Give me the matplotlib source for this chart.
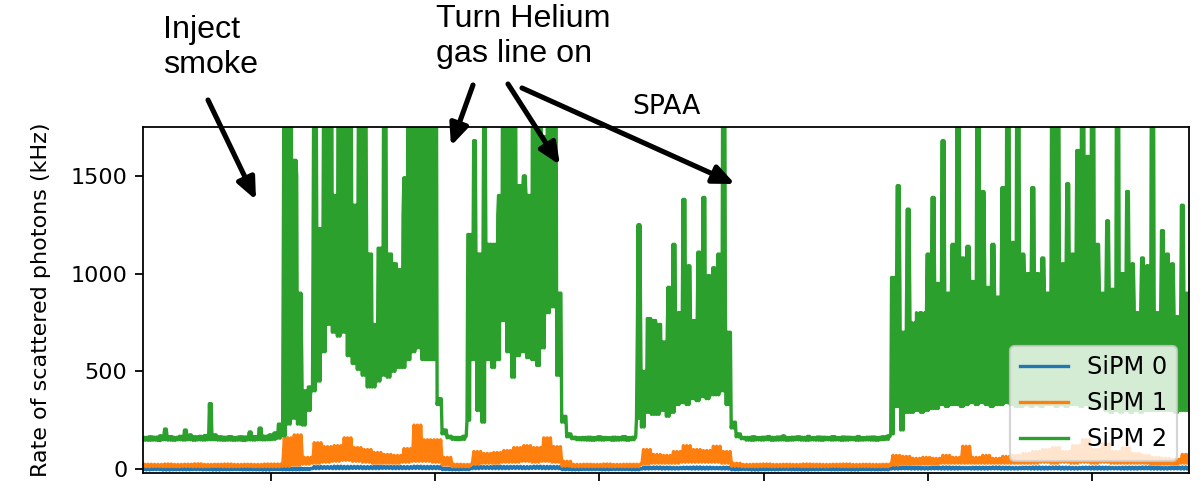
import numpy as np
import matplotlib.pyplot as plt

# time axis (tick labels are cut off in the original figure)
t_start, t_end = 223, 6588
x_ticks = [1000, 2000, 3000, 4000, 5000, 6000]
y_ticks = [0, 500, 1000, 1500]

# SiPM 2 (kHz), per time bin: bottom of the trace, top of the dense band, highest spike
sipm2_low = [148, 147, 148, 146, 150, 148, 147, 150, 148, 150,
             147, 149, 148, 150, 150, 148, 147, 148, 147, 148,
             146, 149, 148, 150, 149, 150, 152, 158, 170, 230,
             260, 230, 225, 300, 400, 450, 600, 740, 700, 680,
             700, 580, 540, 510, 480, 420, 420, 450, 480, 470,
             500, 520, 520, 560, 600, 620, 560, 560, 560, 330,
             180, 160, 152, 150, 152, 250, 560, 300, 240, 560,
             520, 560, 760, 600, 470, 580, 600, 570, 560, 530,
             620, 800, 830, 480, 240, 165, 155, 150, 149, 148,
             147, 149, 148, 150, 147, 148, 149, 147, 150,
             260, 215, 290, 280, 280, 300, 270, 290, 330, 340, 330,
             360, 350, 370, 360, 380, 380, 400, 330, 210, 165, 155,
             148, 147, 149, 148, 150, 147, 148, 149, 147, 148,
             150, 148, 147, 149, 148, 147, 150, 148, 149, 147,
             148, 150, 147, 148, 149, 148, 147, 150, 152,
             180, 320, 200, 290, 290, 300, 290, 300, 310, 310,
             330, 320, 330, 330, 320, 330, 340, 330, 340, 330,
             320, 330, 330, 340, 330, 320, 320, 330, 320, 330,
             320, 330, 330, 320, 330, 320, 330, 330, 320, 330,
             320, 320, 320, 300, 290, 300, 290, 300, 290, 300,
             290, 300, 300, 300, 300, 300, 300, 290, 300, 300]
sipm2_fill = [162, 165, 163, 164, 166, 166, 162, 165, 164, 165,
              165, 164, 166, 165, 165, 165, 163, 166, 162, 165,
              164, 166, 166, 168, 168, 170, 180, 230, 1250, 1250,
              1500, 600, 400, 420, 1400, 1230, 1600, 2500, 1400, 2500,
              2500, 1500, 1350, 1600, 1300, 1100, 740, 1130, 1100, 1100,
              1050, 1000, 1300, 2500, 2500, 2500, 2500, 1300, 2500, 360,
              200, 168, 162, 162, 168, 1200, 900, 1100, 900, 1150,
              1000, 1300, 2500, 2500, 1400, 1450, 1400, 1400, 2500, 2500,
              1500, 2500, 2500, 900, 270, 180, 163, 160, 162, 163,
              161, 165, 162, 160, 163, 162, 166, 161, 163,
              700, 500, 770, 760, 740, 650, 700, 700, 750, 720, 750,
              700, 750, 750, 760, 760, 780, 800, 700, 240, 180, 162,
              162, 165, 161, 163, 164, 162, 164, 165, 161, 163,
              165, 162, 164, 161, 164, 163, 162, 166, 161, 164,
              163, 162, 164, 161, 163, 164, 162, 165, 166,
              980, 950, 700, 850, 750, 800, 800, 800, 850, 850,
              900, 850, 900, 950, 900, 950, 900, 950, 1050, 900,
              900, 850, 950, 1050, 950, 1000, 950, 900, 950, 900,
              900, 850, 1050, 1050, 950, 1000, 950, 1050, 1050, 1050,
              1000, 950, 850, 900, 850, 900, 850, 900, 850, 750,
              850, 850, 900, 750, 850, 850, 800, 750, 850, 800]
sipm2_peak = [162, 165, 163, 170, 205, 166, 162, 168, 200, 175,
              165, 168, 172, 335, 175, 165, 163, 166, 162, 165,
              164, 190, 166, 210, 168, 175, 185, 230, 2500, 2500,
              1580, 900, 400, 420, 2500, 1230, 2500, 2500, 1400, 2500,
              2500, 2500, 1350, 2500, 1900, 1100, 740, 1130, 2500, 1100,
              1050, 1020, 1490, 2500, 2500, 2500, 2500, 2500, 2500, 360,
              200, 168, 162, 162, 168, 1200, 1680, 1100, 1750, 1150,
              1150, 1400, 2500, 2500, 2500, 1450, 1500, 1400, 2500, 2500,
              1700, 2500, 2500, 900, 270, 180, 163, 160, 162, 163,
              161, 165, 162, 160, 163, 162, 166, 161, 163,
              1250, 500, 770, 760, 740, 650, 930, 1150, 800, 1380, 1040,
              760, 1110, 1390, 990, 1030, 1100, 2500, 700, 240, 180, 162,
              162, 165, 161, 163, 167, 162, 164, 170, 161, 163,
              165, 162, 168, 161, 164, 163, 162, 166, 161, 164,
              163, 162, 167, 161, 163, 164, 162, 165, 170,
              980, 1450, 700, 1330, 700, 780, 760, 1100, 1390, 950,
              1680, 900, 1150, 2500, 1080, 1140, 960, 2500, 1420, 930,
              1150, 880, 1440, 2500, 1160, 2500, 1100, 1000, 1440, 1000,
              1080, 900, 2500, 2500, 1050, 1460, 1100, 1630, 2500, 1600,
              2500, 1150, 900, 1270, 920, 2500, 1000, 1420, 1050, 800,
              1080, 1040, 2500, 800, 1220, 1100, 1050, 780, 1350, 900]

# SiPM 1
sipm1_low = [12, 13, 12, 12, 13, 12, 12, 13, 12, 12, 13, 12, 12, 12,
             14, 20, 25, 30, 35, 40, 45, 40, 35, 30, 30, 30, 35, 40, 40, 35,
             20, 12, 12, 25, 30, 30, 35, 35, 40, 35, 40, 35, 15, 12,
             12, 12, 12, 12, 12, 12,
             25, 30, 30, 30, 35, 35, 35, 35, 30, 15,
             12, 12, 13, 12, 12, 13, 12, 12, 12, 13, 12, 12, 13, 12, 12,
             20, 25, 25, 25, 25, 30, 30, 30, 30, 30, 30, 30, 30, 30, 30,
             35, 30, 35, 30, 35, 30, 35, 30, 30, 30, 30, 25, 25, 25, 30]
sipm1_high = [25, 24, 26, 24, 25, 27, 24, 25, 26, 24, 25, 24, 26, 26,
              160, 175, 60, 135, 115, 120, 160, 110, 100, 85, 75, 70, 105, 225, 150, 150,
              60, 25, 24, 90, 80, 85, 95, 110, 120, 110, 160, 115, 40, 24,
              25, 24, 26, 24, 25, 25,
              100, 75, 70, 90, 120, 100, 95, 117, 90, 30,
              24, 25, 26, 24, 25, 24, 26, 25, 24, 25, 26, 24, 25, 24, 25,
              70, 65, 55, 60, 55, 70, 60, 117, 60, 70, 55, 65, 70, 80, 90,
              100, 110, 90, 120, 150, 100, 130, 90, 110, 80, 70, 60, 55, 50, 75]

# SiPM 0
sipm0_low = [-4, -3, -5, -4, -4, -3, -4, -5, -4, -3, -4, -4, -5, -3, -4, -4, -3,
             2, 3, 2, 2, 3, 2, 2, 3, 2, 2, 3, 2, 2,
             -3, -4, -3,
             2, 3, 2, 2, 3, 2, 3, 2, 2,
             -3, -4, -3, -3, -4, -3, -3, -4,
             0, 1, 0, 0, 1, 0, 0, 1, 0,
             -4, -3, -5, -4, -4, -3, -4, -5, -4, -3, -4, -4, -5, -3, -4, -4,
             0, 1, 0, 0, 1, 0, 0, 1, 0, 0, 1, 0, 0, 1, 0,
             0, 1, 0, 0, 1, 0, 0, 1, 0, 0, 1, 0, 0, 1, 0]
sipm0_high = [4, 5, 4, 3, 4, 5, 4, 4, 3, 4, 5, 4, 4, 3, 4, 5, 4,
              14, 13, 15, 14, 14, 13, 15, 14, 14, 13, 15, 14, 14,
              5, 4, 5,
              14, 13, 15, 14, 14, 13, 15, 14, 14,
              5, 4, 5, 5, 4, 5, 5, 4,
              10, 11, 10, 9, 10, 11, 10, 9, 10,
              4, 5, 4, 3, 4, 5, 4, 4, 3, 4, 5, 4, 4, 3, 4, 5,
              10, 11, 10, 9, 10, 11, 10, 9, 10, 10, 11, 10, 9, 10, 11,
              10, 11, 10, 9, 10, 11, 10, 9, 10, 10, 11, 10, 9, 10, 11]


def trace(*bins):
    # each bin is drawn as a fast oscillation through its values
    vals = np.column_stack(bins).ravel()
    t = np.linspace(t_start, t_end, len(vals))
    return t, vals


lo0, hi0 = sipm0_low, sipm0_high
lo1, hi1 = sipm1_low, sipm1_high
lo2, fi2, pk2 = sipm2_low, sipm2_fill, sipm2_peak
assert len(lo0) == len(hi0) and len(lo1) == len(hi1)
assert len(lo2) == len(fi2) == len(pk2)

traces = [("SiPM 0", trace(lo0, hi0, lo0, hi0, lo0, hi0)),
          ("SiPM 1", trace(lo1, hi1, lo1, hi1, lo1, hi1)),
          ("SiPM 2", trace(lo2, fi2, pk2, lo2, pk2, fi2))]

fig = plt.figure(figsize=(1203 / 160, 498 / 160), dpi=160)
ax = fig.add_axes([143 / 1203, 1 - 473 / 498, 1046 / 1203, 346 / 498])

for name, (t, v) in traces:
    ax.plot(t, v, label=name)

ax.set_xlim(t_start, t_end)
ax.set_ylim(-20, 1750)
ax.set_xticks(x_ticks)
ax.set_xticklabels([])
ax.set_yticks(y_ticks)
ax.set_ylabel("Rate of scattered photons (kHz)", labelpad=9)
ax.set_title("SPAA")
ax.legend(loc="lower right", fontsize=10.8)

# annotations (figure pixel positions)
H = 498
note_font = dict(family=["Liberation Sans", "DejaVu Sans"], fontsize=14.5)
fig.text(163 / 1203, 1 - 15 / H, "Inject\nsmoke", va="top", ha="left", **note_font)
fig.text(436 / 1203, 1 - 4 / H, "Turn Helium\ngas line on", va="top", ha="left", **note_font)

arrow = dict(arrowstyle="-|>,head_length=0.8,head_width=0.35", color="black",
             lw=2.3, mutation_scale=10, shrinkA=0, shrinkB=0)
arrows = [((208, 100), (256, 200)),
          ((473, 85), (451, 146)),
          ((508, 84), (560, 165)),
          ((522, 88), (735, 184))]
for (x0, y0), (x1, y1) in arrows:
    ax.annotate("", xy=(x1, H - y1), xytext=(x0, H - y0),
                xycoords="figure pixels", textcoords="figure pixels",
                arrowprops=arrow, annotation_clip=False)

fig.savefig("out.png", dpi=160)
